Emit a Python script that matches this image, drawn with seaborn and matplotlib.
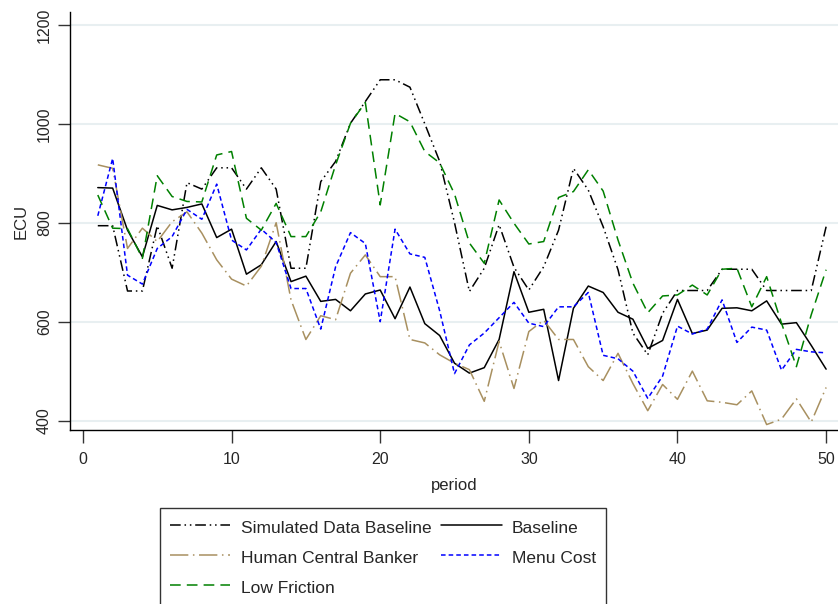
import numpy as np
import pandas as pd
import matplotlib
matplotlib.use("Agg")
import matplotlib.pyplot as plt
import seaborn as sns

periods = list(range(1, 51))

simulated_baseline = [794, 794, 662, 662, 794, 708, 881, 868, 911, 911,
                      868, 911, 868, 708, 708, 883, 924, 1001, 1045, 1089,
                      1089, 1074, 1000, 924, 800, 661, 708, 796, 710, 664,
                      711, 785, 910, 866, 792, 705, 577, 533, 617, 663,
                      663, 663, 706, 706, 706, 663, 663, 663, 663, 792]

baseline = [871, 870, 785, 731, 835, 826, 831, 838, 770, 787,
            696, 715, 762, 681, 692, 641, 645, 622, 656, 664,
            606, 670, 596, 572, 516, 496, 507, 564, 701, 619,
            625, 481, 627, 672, 659, 619, 605, 546, 562, 645,
            576, 583, 627, 628, 622, 642, 595, 598, 552, 504]

human_central_banker = [917, 910, 748, 789, 762, 802, 822, 779, 725, 686,
                        672, 712, 800, 644, 564, 612, 604, 698, 735, 691,
                        691, 564, 557, 533, 516, 503, 439, 560, 465, 580,
                        603, 564, 564, 509, 481, 536, 475, 420, 473, 443,
                        500, 440, 437, 432, 460, 392, 403, 444, 397, 467]

menu_cost = [814, 930, 694, 676, 748, 772, 827, 807, 878, 765,
             745, 787, 760, 667, 667, 585, 711, 780, 758, 600,
             787, 737, 730, 622, 495, 553, 577, 608, 639, 597,
             590, 630, 630, 659, 532, 525, 500, 445, 490, 591,
             575, 585, 644, 558, 589, 583, 502, 544, 539, 537]

low_friction = [856, 789, 788, 728, 895, 853, 843, 842, 937, 944,
                809, 785, 839, 772, 772, 822, 917, 1001, 1043, 836,
                1021, 1004, 944, 921, 858, 759, 718, 846, 799, 757,
                762, 851, 863, 907, 864, 765, 678, 618, 652, 654,
                674, 654, 706, 708, 630, 691, 597, 509, 614, 705]

y_ticks = [400, 600, 800, 1000, 1200]
x_ticks = [0, 10, 20, 30, 40, 50]

series = {
    "Simulated Data Baseline": simulated_baseline,
    "Baseline": baseline,
    "Human Central Banker": human_central_banker,
    "Menu Cost": menu_cost,
    "Low Friction": low_friction,
}
df = pd.DataFrame({"period": periods, **series})

styles = {
    "Simulated Data Baseline": dict(color="black", dashes=(7, 2.5, 1, 2.5, 1, 2.5)),
    "Baseline": dict(color="black", dashes=None),
    "Human Central Banker": dict(color="#a89060", dashes=(12, 3, 1, 3)),
    "Menu Cost": dict(color="#0000ff", dashes=(3, 2)),
    "Low Friction": dict(color="#008000", dashes=(7, 4)),
}

sns.set_style("white")
plt.rcParams["font.family"] = ["Liberation Sans", "DejaVu Sans"]

fig = plt.figure(figsize=(8.38, 6.04), dpi=100)
ax = fig.add_axes([70 / 838, 1 - 430 / 604, 1 - 70 / 838, (430 - 12) / 604])

handles = {}
for name, vals in series.items():
    st = styles[name]
    sns.lineplot(data=df, x="period", y=name, ax=ax, color=st["color"],
                 linewidth=1.1, label=name, legend=False)
    line = ax.get_lines()[-1]
    if st["dashes"] is not None:
        line.set_dashes(st["dashes"])
    handles[name] = line

ax.set_xlim(-0.87, 50.8)
ax.set_ylim(381, 1226)
ax.set_yticks(y_ticks)
ax.set_xticks(x_ticks)
ax.set_yticklabels([str(v) for v in y_ticks], rotation=90, va="center", fontsize=11.5)
ax.set_xticklabels([str(v) for v in x_ticks], fontsize=11.5)
ax.tick_params(axis="both", direction="out", length=9, width=1, color="#333333",
               bottom=True, left=True)
ax.tick_params(axis="y", pad=4)
ax.tick_params(axis="x", pad=7)
ax.set_xlabel("period", fontsize=12, labelpad=8)
ax.set_ylabel("ECU", fontsize=12, labelpad=6)

for v in y_ticks:
    ax.axhline(v, color="#e8eff1", linewidth=1.5, zorder=0)

for side in ["top", "right"]:
    ax.spines[side].set_visible(False)
for side in ["left", "bottom"]:
    ax.spines[side].set_color("black")
    ax.spines[side].set_linewidth(1.0)

order = ["Simulated Data Baseline", "Human Central Banker", "Low Friction",
         "Baseline", "Menu Cost"]
leg = fig.legend([handles[n] for n in order], order, ncol=2,
                 loc="upper left", bbox_to_anchor=(160 / 838, 1 - 508 / 604),
                 frameon=True, fancybox=False, fontsize=12.5,
                 handlelength=3.5, handleheight=1.3, handletextpad=0.6,
                 columnspacing=0.55, labelspacing=0.63, borderpad=0.55,
                 borderaxespad=0)
leg.get_frame().set_edgecolor("black")
leg.get_frame().set_linewidth(1.0)

fig.savefig("out.png", dpi=100)
